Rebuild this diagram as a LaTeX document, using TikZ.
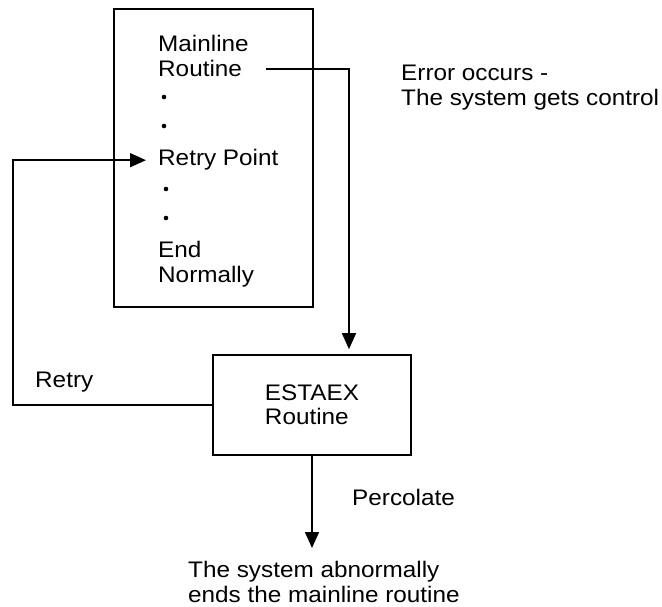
\documentclass[tikz,border=0pt]{standalone}
\usepackage{fontspec}
\setmainfont{Liberation Sans}[FakeStretch=1.08]
\usetikzlibrary{arrows.meta,positioning}
\begin{document}
\begin{tikzpicture}[x=1pt,y=-1pt,font=\fontsize{22.5}{24.5}\selectfont]
\tikzset{box/.style={draw,rectangle,line width=1.6pt,inner sep=0pt},
txt/.style={anchor=base west,inner sep=0pt},
dot/.style={circle,fill,inner sep=0pt,minimum size=4.6pt},
flow/.style={line width=1.6pt,-{Triangle[length=16pt,width=14pt]}}}
\useasboundingbox (0,0) rectangle (662,607);

\node[box,minimum width=199pt,minimum height=298pt] (mainbox) at (213.5,158) {};
\node[txt] (mainline) at (158,52) {Mainline};
\node[txt] (routine) at (158,77) {Routine};
\node[dot] (dot1) at (164,97) {};
\node[dot] (dot2) at (164,126) {};
\node[txt] (retrypt) at (158,166) {Retry Point};
\node[dot] (dot3) at (166,189) {};
\node[dot] (dot4) at (166,218) {};
\node[txt] (endline) at (158,258) {End};
\node[txt] (normally) at (158,283) {Normally};

\node[txt,anchor=north west,align=left] (error) at (401,65) {Error occurs -\\The system gets control};

\node[box,minimum width=198pt,minimum height=100pt,align=left] (estaex) at (312,405) {ESTAEX\\Routine};

\draw[flow,shorten <=24pt,shorten >=5pt] (routine.east) -| ([xshift=37pt]estaex.north);

\draw[flow] (estaex.west) -- ++(-199,0) coordinate (retrycorner) |- ([xshift=-12pt]retrypt.west);
\node[txt] (retrylbl) at (35,387) {Retry};

\node[txt,anchor=north west,align=left] (abend) at (188,561) {The system abnormally\\ends the mainline routine};
\draw[flow,shorten >=13pt] (estaex.south) -- (estaex.south |- abend.north);
\node[txt] (perclbl) at (352,505) {Percolate};

\end{tikzpicture}
\end{document}
